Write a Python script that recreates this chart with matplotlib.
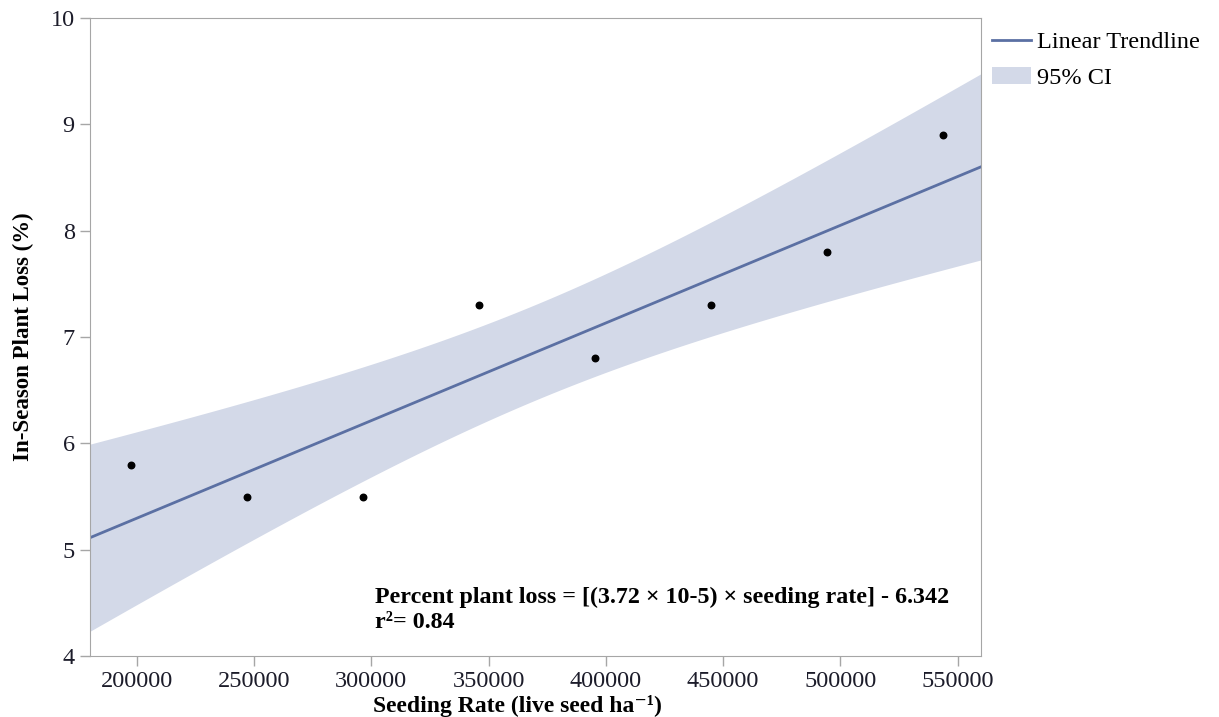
import matplotlib
matplotlib.use("Agg")
import matplotlib.pyplot as plt
import numpy as np

# seeding rates (live seed / ha) and observed in-season plant loss (%)
seeding_rate = np.array([197684, 247105, 296526, 345947, 395368, 444789, 494210, 543631])
plant_loss = np.array([5.8, 5.5, 5.5, 7.3, 6.8, 7.3, 7.8, 8.9])

x_ticks = [200000, 250000, 300000, 350000, 400000, 450000, 500000, 550000]
y_ticks = [4, 5, 6, 7, 8, 9, 10]

# two sided t value, 95%, df = 6
t_crit = 2.4469

plt.rcParams['font.family'] = ['Liberation Serif', 'DejaVu Serif']

# --- fit ---
n = len(seeding_rate)
slope, intercept = np.polyfit(seeding_rate, plant_loss, 1)
resid = plant_loss - (slope * seeding_rate + intercept)
s = np.sqrt(np.sum(resid ** 2) / (n - 2))
x_mean = seeding_rate.mean()
sxx = np.sum((seeding_rate - x_mean) ** 2)

xs = np.linspace(180000, 560000, 200)
ys = slope * xs + intercept
half = t_crit * s * np.sqrt(1.0 / n + (xs - x_mean) ** 2 / sxx)

fig = plt.figure(figsize=(12.19, 7.17), dpi=100)
ax = fig.add_axes([0.0738, 0.085, 0.731, 0.89])

band = ax.fill_between(xs, ys - half, ys + half, color='#d3d9e8', linewidth=0, label='95% CI')
line, = ax.plot(xs, ys, color='#5b70a3', linewidth=2, label='Linear Trendline')
ax.scatter(seeding_rate, plant_loss, s=22, color='black', zorder=3)

ax.set_xlim(180000, 560000)
ax.set_ylim(4, 10)
ax.set_xticks(x_ticks)
ax.set_xticklabels([str(v) for v in x_ticks])
ax.set_yticks(y_ticks)

for sp in ax.spines.values():
    sp.set_color('#a6a6a6')
ax.tick_params(axis='both', colors='#a6a6a6', labelcolor='#1c1c2a', labelsize=17.5,
               direction='out', length=7, width=1, pad=4)

ax.set_xlabel('Seeding Rate (live seed ha\u207b\u00b9)', fontsize=17, fontweight='bold', va='center')
ax.xaxis.set_label_coords(0.4795, -0.078)
ax.set_ylabel('In-Season Plant Loss (%)', fontsize=16.5, fontweight='bold', labelpad=12)

fig.text(0.3076, 0.182, 'Percent plant loss = [(3.72 \u00d7 10-5) \u00d7 seeding rate] - 6.342\nr\u00b2= 0.84',
         fontsize=17.3, fontweight='bold', ha='left', va='top', linespacing=1.3)

fig.legend(handles=[line, band], labels=['Linear Trendline', '95% CI'],
           loc='upper left', bbox_to_anchor=(0.806, 0.97), frameon=False,
           fontsize=17.5, handlelength=1.6, handletextpad=0.25, labelspacing=0.55,
           borderaxespad=0)

fig.savefig('out.png', dpi=100)
